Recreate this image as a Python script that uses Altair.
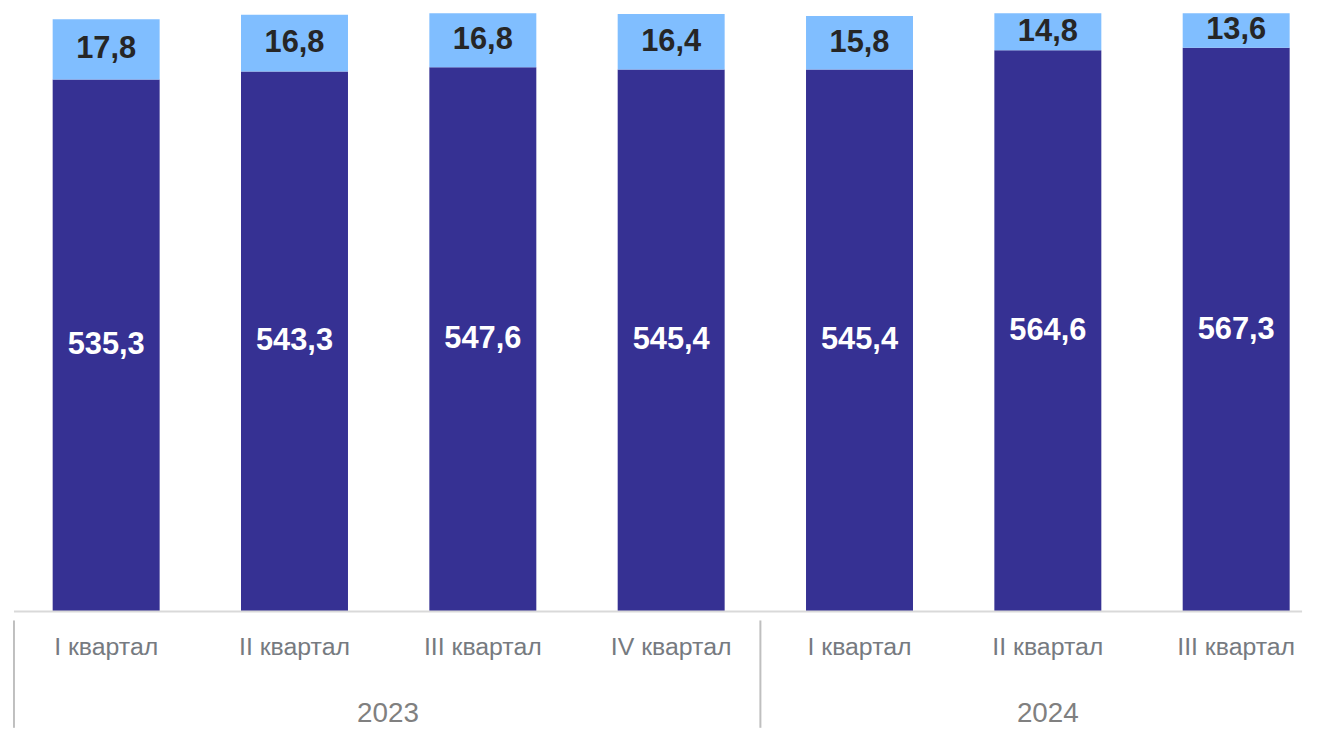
import altair as alt
import pandas as pd

keys = ["2023-I", "2023-II", "2023-III", "2023-IV", "2024-I", "2024-II", "2024-III"]
quarters = ["I квартал", "II квартал", "III квартал", "IV квартал",
            "I квартал", "II квартал", "III квартал"]
dark = [535.3, 543.3, 547.6, 545.4, 545.4, 564.6, 567.3]
light = [17.8, 16.8, 16.8, 16.4, 15.8, 14.8, 13.6]
years = ["2023", "2024"]
year_anchor = ["2023-II", "2024-II"]

LIGHT_K = 3.4   # display stretch of the small top segment, as in the original
YMAX = 602
FONT = "Liberation Sans"

df = pd.DataFrame({"key": keys, "quarter": quarters, "dark": dark, "light": light})
ydf = pd.DataFrame({"key": year_anchor, "year": years})

xscale = alt.Scale(domain=keys, paddingInner=0.432, paddingOuter=0.17, align=0.62)
yscale = alt.Scale(domain=[0, YMAX], nice=False, zero=True)
X = alt.X("key:N", scale=xscale, axis=None, sort=keys)

base = alt.Chart(df).transform_calculate(
    top=f"min(datum.dark + datum.light * {LIGHT_K}, {YMAX})",
    dlab="replace(format(datum.dark, '.1f'), '.', ',')",
    llab="replace(format(datum.light, '.1f'), '.', ',')",
).transform_calculate(
    midD="datum.dark / 2",
    midL="(datum.dark + datum.top) / 2",
)

bars_dark = base.mark_bar(color="#363193").encode(
    x=X, y=alt.Y("dark:Q", scale=yscale, axis=None))
bars_light = base.mark_bar(color="#80BEFF").encode(
    x=X, y=alt.Y("dark:Q", scale=yscale, axis=None), y2="top:Q")

lab_dark = base.mark_text(font=FONT, fontSize=31, fontWeight="bold", color="white",
                          baseline="middle").encode(
    x=X, y=alt.Y("midD:Q", scale=yscale, axis=None), text="dlab:N")
lab_light = base.mark_text(font=FONT, fontSize=31, fontWeight="bold", color="#262626",
                           baseline="middle").encode(
    x=X, y=alt.Y("midL:Q", scale=yscale, axis=None), text="llab:N")

q_labels = alt.Chart(df).mark_text(font=FONT, fontSize=25, color="#767a80",
                                   baseline="middle").encode(
    x=X, y=alt.value(638), text="quarter:N")

y2023 = alt.Chart(ydf.iloc[[0]]).mark_text(font=FONT, fontSize=28, color="#808080",
                                          baseline="middle", dx=94).encode(
    x=X, y=alt.value(705), text="year:N")
y2024 = alt.Chart(ydf.iloc[[1]]).mark_text(font=FONT, fontSize=28, color="#808080",
                                          baseline="middle").encode(
    x=X, y=alt.value(705), text="year:N")

baseline_rule = alt.Chart(df.iloc[[0]]).mark_rule(color="#d9d9d9", strokeWidth=2).encode(
    x=alt.value(1), x2=alt.value(1297), y=alt.value(602))
sep1 = alt.Chart(df.iloc[[0]]).mark_rule(color="#bfbfbf", strokeWidth=2).encode(
    x=alt.value(1), y=alt.value(611), y2=alt.value(719))
sep2 = alt.Chart(df.iloc[[0]]).mark_rule(color="#bfbfbf", strokeWidth=2).encode(
    x=alt.value(752), y=alt.value(611), y2=alt.value(719))

chart = alt.layer(
    bars_dark, bars_light, baseline_rule, sep1, sep2,
    lab_dark, lab_light, q_labels, y2023, y2024
).properties(
    width=1309, height=YMAX,
    background="white",
    autosize=alt.AutoSizeParams(type="none"),
    padding={"left": 5, "top": 3, "right": 0, "bottom": 116},
).configure_view(strokeWidth=0, stroke="transparent")

chart.save("out.html", embed_options={"renderer": "svg", "actions": False})
